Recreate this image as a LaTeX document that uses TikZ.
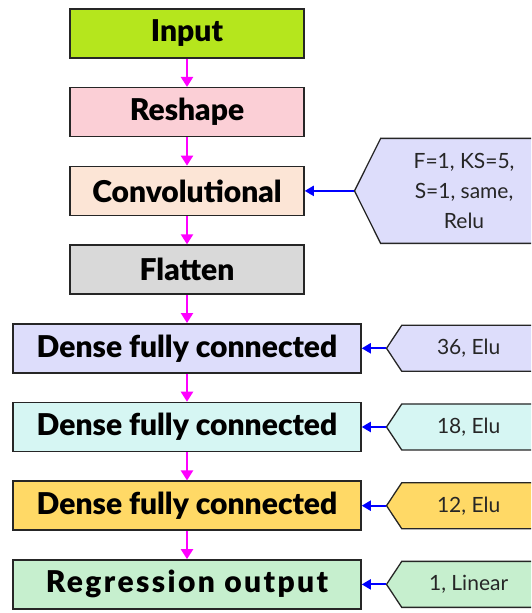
\documentclass[tikz,border=0pt]{standalone}
\usepackage{fontspec}
\setmainfont{Lato}
\newfontfamily\heavyfont{Lato Black}
\usetikzlibrary{calc,shapes.symbols,arrows.meta}
\definecolor{inputgreen}{HTML}{B5E61D}
\definecolor{reshapepink}{HTML}{FBCFD6}
\definecolor{convpeach}{HTML}{FCE5D6}
\definecolor{flatgray}{HTML}{D9D9D9}
\definecolor{densepurple}{HTML}{DDDDFB}
\definecolor{densecyan}{HTML}{D6F6F3}
\definecolor{densegold}{HTML}{FFD966}
\definecolor{outgreen}{HTML}{C6EFCE}
\definecolor{flowpink}{HTML}{FF00FF}
\definecolor{parblue}{HTML}{0000FF}
\tikzstyle{layer}=[draw=black!85, line width=1.5pt, minimum height=49pt, font=\fontsize{30}{34}\heavyfont]
\tikzstyle{narrow}=[layer, minimum width=234pt]
\tikzstyle{wide}=[layer, minimum width=348pt]
\tikzstyle{tag}=[draw=black!85, line width=1.3pt, shape=signal, signal to=west, anchor=west, inner sep=0pt, minimum width=149pt, minimum height=46pt, signal pointer angle=113, font=\fontsize{21}{30}\selectfont, text=black!85]
\tikzstyle{flow}=[draw=flowpink, line width=2.2pt, -{Triangle[length=10pt,width=12pt]}]
\tikzstyle{param}=[draw=parblue, line width=2pt, -{Triangle[length=9pt,width=10pt]}]

\begin{document}
\begin{tikzpicture}[x=1pt, y=1pt, node distance=78.7pt]
  \useasboundingbox (0,0) rectangle (531,613);
  \clip (0,0) rectangle (531,613);
  \node[narrow, fill=inputgreen] (input) at (187,579.5) {Input};
  \node[narrow, fill=reshapepink, below of=input] (reshape) {Reshape};
  \node[narrow, fill=convpeach, below of=reshape] (conv) {Convolutional};
  \node[narrow, fill=flatgray, below of=conv] (flatten) {Flatten};
  \node[wide, fill=densepurple, below of=flatten] (dense1) {Dense fully connected};
  \node[wide, fill=densecyan, below of=dense1] (dense2) {Dense fully connected};
  \node[wide, fill=densegold, below of=dense2] (dense3) {Dense fully connected};
  \node[wide, fill=outgreen, below of=dense3] (output) {\addfontfeature{LetterSpace=8}Regression output};
  % layer parameters
  \node[tag, fill=densepurple, minimum width=193pt, minimum height=105pt, signal pointer angle=127, align=center] (convpar) at ($(conv.east)+(49,0)$) {F=1, KS=5,\\S=1, same,\\Relu};
  \node[tag, fill=densepurple] (par1) at ($(dense1.east)+(24,0)$) {36, Elu};
  \node[tag, fill=densecyan] (par2) at ($(dense2.east)+(24,0)$) {18, Elu};
  \node[tag, fill=densegold] (par3) at ($(dense3.east)+(24,0)$) {12, Elu};
  \node[tag, fill=outgreen] (parout) at ($(output.east)+(24,0)$) {1, Linear};
  \path (input) edge[flow] (reshape)
        (reshape) edge[flow] (conv)
        (conv) edge[flow] (flatten)
        (flatten) edge[flow] (dense1)
        (dense1) edge[flow] (dense2)
        (dense2) edge[flow] (dense3)
        (dense3) edge[flow] (output);
  \path (convpar.west) edge[param] (conv.east)
        (par1.west) edge[param] (dense1.east)
        (par2.west) edge[param] (dense2.east)
        (par3.west) edge[param] (dense3.east)
        (parout.west) edge[param] (output.east);
\end{tikzpicture}
\end{document}
